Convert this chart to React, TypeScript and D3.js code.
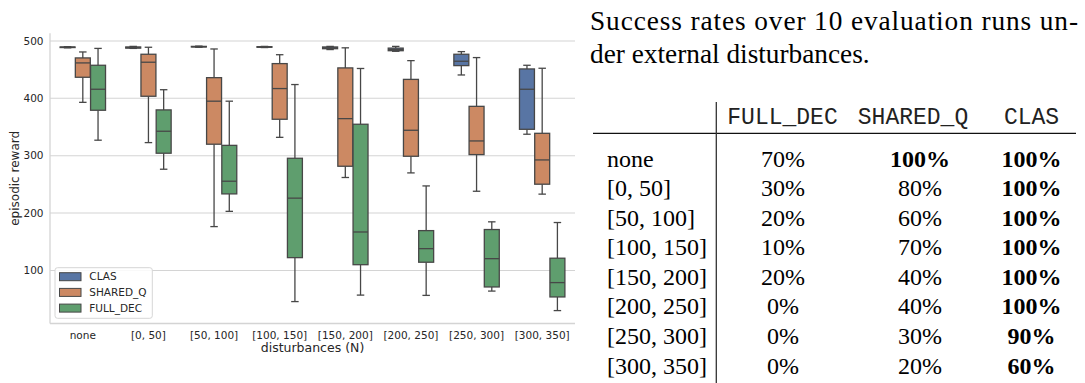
import React from "react";
import * as d3 from "d3";

// ---------- data ----------
const categories = ["none", "[0, 50]", "[50, 100]", "[100, 150]", "[150, 200]", "[200, 250]", "[250, 300]", "[300, 350]"];
const seriesNames = ["CLAS", "SHARED_Q", "FULL_DEC"];
// five-number summaries: [whiskerLow, q1, median, q3, whiskerHigh]
const clasStats = [
  [488, 488.5, 489, 489.5, 490],
  [487, 487.5, 488.5, 489.5, 490.5],
  [489, 489.5, 490, 490.5, 491],
  [488.5, 489, 489.5, 490, 490.5],
  [485, 486.5, 488, 489.5, 490.5],
  [482, 483, 485, 487.5, 490.5],
  [440.7, 457, 464.6, 476.8, 481.4],
  [337.4, 346, 415.8, 451.2, 457.6],
];
const sharedQStats = [
  [393, 436.7, 461.7, 470.4, 480.8],
  [322.8, 403.6, 462.9, 476.8, 489],
  [176.4, 320, 395, 436, 486],
  [332, 363.5, 417, 460.5, 476],
  [262, 281.6, 364.6, 453, 488],
  [270, 299, 344.3, 433, 465.7],
  [238, 301.9, 325.7, 386, 471],
  [233, 250.3, 292.6, 339, 452.4],
];
const fullDecStats = [
  [327, 379.2, 415.8, 457.6, 487],
  [276.4, 304.3, 342.6, 379.8, 415],
  [203, 233.4, 255.5, 318, 395],
  [45.7, 122.3, 226, 295.5, 424],
  [57, 110, 167, 354.8, 452],
  [56.5, 114.3, 138, 169.4, 247.3],
  [64, 71.2, 120.5, 171.3, 184.7],
  [30, 53.8, 78.8, 121.3, 183.5],
];
const yTicks = [100, 200, 300, 400, 500];

// table
const captionLine1 = "Success rates over 10 evaluation runs un-";
const captionLine2 = "der external disturbances.";
const tableHeaders = ["FULL_DEC", "SHARED_Q", "CLAS"];
const tableRows = ["none", "[0, 50]", "[50, 100]", "[100, 150]", "[150, 200]", "[200, 250]", "[250, 300]", "[300, 350]"];
const fullDecRates = [70, 30, 20, 10, 20, 0, 0, 0];
const sharedQRates = [100, 80, 60, 70, 40, 40, 30, 20];
const clasRates = [100, 100, 100, 100, 100, 100, 90, 60];

// ---------- styles ----------
const colors = ["#5875a4", "#cc8963", "#5f9e6e"];
const lineColor = "#474747";
const gridColor = "#d4d4d4";
const textColor = "#262626";
const sans = "'DejaVu Sans', sans-serif";
const serif = "'Liberation Serif', 'Times New Roman', serif";
const mono = "'Liberation Mono', 'Courier New', monospace";

export default function App() {
  const W = 1085, H = 383;
  const plot = { left: 50, right: 575, top: 33.2, bottom: 323.5 };
  const x = d3.scaleBand<string>().domain(categories).range([plot.left, plot.right]).padding(0);
  const y = d3.scaleLinear().domain([7.5, 513.5]).range([plot.bottom, plot.top]);
  const hue = d3.scaleBand<string>().domain(seriesNames).range([-x.bandwidth() * 0.348, x.bandwidth() * 0.348]);
  const boxW = x.bandwidth() * 0.228;
  const allStats = [clasStats, sharedQStats, fullDecStats];

  // table layout
  const colCenters = [783, 920, 1031.5];
  const headerCenters = [782.5, 913, 1031.5];
  const rowY = d3.scaleLinear().domain([0, 7]).range([166.5, 373.5]);
  const rates = [fullDecRates, sharedQRates, clasRates];

  return (
    <svg width={W} height={H} style={{ position: "absolute", left: 0, top: 0, background: "#fff" }}>
      {/* grid */}
      {yTicks.map((t) => (
        <line key={"g" + t} x1={plot.left} x2={plot.right} y1={y(t)} y2={y(t)} stroke={gridColor} strokeWidth={1.1} />
      ))}
      {/* spines */}
      <line x1={plot.left} x2={plot.left} y1={plot.top} y2={plot.bottom} stroke={gridColor} strokeWidth={1.3} />
      <line x1={plot.left} x2={plot.right} y1={plot.bottom} y2={plot.bottom} stroke={gridColor} strokeWidth={1.3} />
      {/* y tick labels */}
      {yTicks.map((t) => (
        <text key={"yt" + t} x={43.5} y={y(t)} dy="0.35em" textAnchor="end" fontFamily={sans} fontSize={10.5} fill={textColor}>
          {t}
        </text>
      ))}
      <text transform={`translate(15,${(plot.top + plot.bottom) / 2}) rotate(-90)`} textAnchor="middle" dy="0.35em" fontFamily={sans} fontSize={12} fill={textColor}>
        episodic reward
      </text>
      {/* x tick labels */}
      {categories.map((c) => (
        <text key={"xt" + c} x={x(c)! + x.bandwidth() / 2} y={335.5} dy="0.35em" textAnchor="middle" fontFamily={sans} fontSize={10.5} fill={textColor}>
          {c}
        </text>
      ))}
      <text x={(plot.left + plot.right) / 2} y={348} dy="0.35em" textAnchor="middle" fontFamily={sans} fontSize={12.5} fill={textColor}>
        disturbances (N)
      </text>
      {/* boxes */}
      {allStats.map((stats, si) =>
        stats.map((s, ci) => {
          const cx = x(categories[ci])! + x.bandwidth() / 2 + hue(seriesNames[si])! + hue.bandwidth() / 2;
          const [lo, q1, med, q3, hi] = s;
          return (
            <g key={`b${si}-${ci}`}>
              <line x1={cx} x2={cx} y1={y(q3)} y2={y(hi)} stroke={lineColor} strokeWidth={1.3} />
              <line x1={cx} x2={cx} y1={y(q1)} y2={y(lo)} stroke={lineColor} strokeWidth={1.3} />
              <line x1={cx - boxW / 4} x2={cx + boxW / 4} y1={y(hi)} y2={y(hi)} stroke={lineColor} strokeWidth={1.3} />
              <line x1={cx - boxW / 4} x2={cx + boxW / 4} y1={y(lo)} y2={y(lo)} stroke={lineColor} strokeWidth={1.3} />
              <rect x={cx - boxW / 2} y={y(q3)} width={boxW} height={Math.max(0.5, y(q1) - y(q3))} fill={colors[si]} stroke={lineColor} strokeWidth={1.3} />
              <line x1={cx - boxW / 2} x2={cx + boxW / 2} y1={y(med)} y2={y(med)} stroke={lineColor} strokeWidth={1.3} />
            </g>
          );
        })
      )}
      {/* legend */}
      <rect x={55} y={267.7} width={97.3} height={50.6} rx={2.5} fill="#fff" fillOpacity={0.85} stroke="#d6d6d6" strokeWidth={1} />
      {seriesNames.map((n, i) => (
        <g key={"lg" + n}>
          <rect x={59.5} y={272.7 + i * 15.7} width={21.5} height={8} fill={colors[i]} stroke={lineColor} strokeWidth={1} />
          <text x={89.3} y={276.7 + i * 15.7} dy="0.35em" fontFamily={sans} fontSize={10.5} fill={textColor}>
            {n}
          </text>
        </g>
      ))}

      {/* ---------- table ---------- */}
      <text x={590} y={30} fontFamily={serif} fontSize={27.3} fill="#000" textLength={488} lengthAdjust="spacing">
        {captionLine1}
      </text>
      <text x={590} y={63} fontFamily={serif} fontSize={27.3} fill="#000">
        {captionLine2}
      </text>
      {tableHeaders.map((h, i) => (
        <text key={"th" + h} x={headerCenters[i]} y={123.5} textAnchor="middle" fontFamily={mono} fontSize={23} fill="#222">
          {h}
        </text>
      ))}
      <line x1={593} x2={1076} y1={133.3} y2={133.3} stroke="#111" strokeWidth={1.3} />
      <line x1={716.3} x2={716.3} y1={102} y2={383} stroke="#333" strokeWidth={1.3} />
      {tableRows.map((r, ri) => {
        const rowMax = Math.max(...rates.map((col) => col[ri]));
        return (
          <g key={"tr" + ri}>
            <text x={607} y={rowY(ri)} fontFamily={serif} fontSize={24} fill="#000">
              {r}
            </text>
            {rates.map((col, ci) => (
              <text key={"tc" + ci} x={colCenters[ci]} y={rowY(ri)} textAnchor="middle" fontFamily={serif} fontSize={24} fontWeight={col[ri] === rowMax ? "bold" : "normal"} fill="#000">
                {col[ri]}%
              </text>
            ))}
          </g>
        );
      })}
    </svg>
  );
}
